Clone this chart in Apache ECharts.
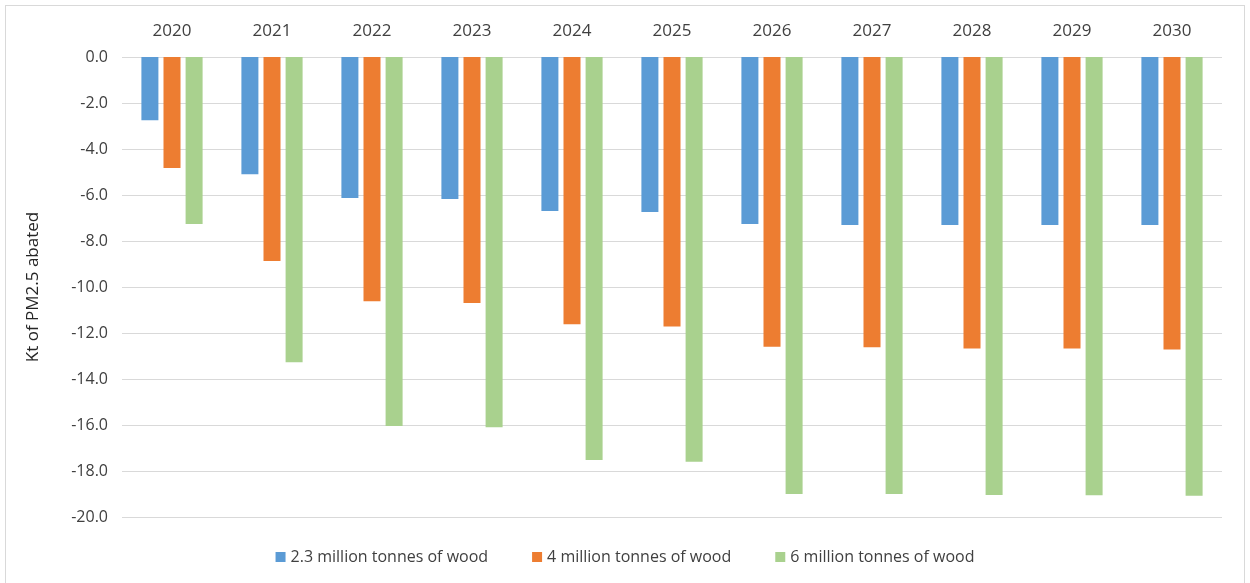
<!DOCTYPE html>
<html lang="en">
<head>
    <meta charset="UTF-8">
    <title>PM2.5 abated</title>
    <script src="https://cdn.jsdelivr.net/npm/echarts@6/dist/echarts.min.js"></script>
    <style>
        body { margin: 0; background: #fff; }
        .frame { position: absolute; left: 5px; top: 5px; width: 1240px; height: 590px; border: 1px solid #d9d9d9; box-sizing: border-box; }
        .container { position: absolute; left: 0; top: 0; width: 1250px; height: 583px; }
    </style>
</head>
<body>
<div class="frame"></div>
<div class="container"></div>
<script>
    let years = ['2020', '2021', '2022', '2023', '2024', '2025', '2026', '2027', '2028', '2029', '2030'];
    let names = ['2.3 million tonnes of wood', '4 million tonnes of wood', '6 million tonnes of wood'];
    let wood23 = [-2.75, -5.1, -6.13, -6.17, -6.7, -6.74, -7.26, -7.3, -7.3, -7.3, -7.3];
    let wood4 = [-4.83, -8.87, -10.62, -10.7, -11.62, -11.72, -12.6, -12.62, -12.67, -12.67, -12.72];
    let wood6 = [-7.26, -13.27, -16.04, -16.1, -17.52, -17.6, -19.0, -19.0, -19.04, -19.05, -19.08];
    let colors = ['#5b9bd5', '#ed7d31', '#a9d18e'];

    let font = 'Open Sans';
    let mycharts = echarts.init(document.querySelector('.container'));

    let series = [wood23, wood4, wood6].map((vals, i) => ({
        name: names[i],
        type: 'bar',
        data: vals,
        barWidth: 17,
        barGap: '30%',
        itemStyle: { color: colors[i] }
    }));

    let option = {
        animation: false,
        textStyle: { fontFamily: font },
        grid: { left: 122, right: 28, top: 57, bottom: 66 },
        legend: {
            bottom: 13,
            left: 'center',
            data: names,
            icon: 'rect',
            itemWidth: 10,
            itemHeight: 10,
            itemGap: 44,
            textStyle: { fontFamily: font, fontSize: 16, color: '#404040' }
        },
        xAxis: {
            type: 'category',
            position: 'top',
            data: years,
            axisLine: { show: false },
            axisTick: { show: false },
            axisLabel: { fontFamily: font, fontSize: 17, color: '#404040', margin: 17 }
        },
        yAxis: {
            type: 'value',
            min: -20,
            max: 0,
            interval: 2,
            name: 'Kt of PM2.5 abated',
            nameLocation: 'middle',
            nameGap: 80,
            nameTextStyle: { fontFamily: font, fontSize: 17, color: '#262626' },
            axisLabel: {
                fontFamily: font, fontSize: 16, color: '#404040', margin: 14,
                formatter: v => v.toFixed(1)
            },
            splitLine: { lineStyle: { color: '#d9d9d9', width: 1 } }
        },
        series
    };

    mycharts.setOption(option);
</script>
</body>
</html>
